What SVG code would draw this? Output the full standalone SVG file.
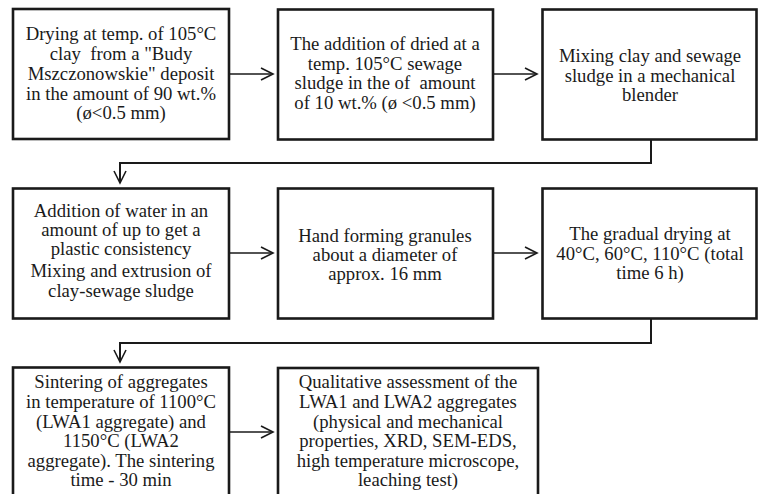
<svg xmlns="http://www.w3.org/2000/svg" width="759" height="494" viewBox="0 0 759 494">
<style>
.box{fill:#fff;stroke:#1a1a1a;stroke-width:2.6}
.t{font-family:"Liberation Serif","Times New Roman",serif;font-size:18.7px;fill:#1a1a1a;text-anchor:middle}
.c{fill:none;stroke:#1a1a1a;stroke-width:2}
.a{fill:none;stroke:#1a1a1a;stroke-width:1.6}
</style>
<defs>
<marker id="ah" markerUnits="userSpaceOnUse" markerWidth="16" markerHeight="16" refX="13" refY="7" orient="auto" viewBox="0 0 16 14">
<path d="M1,1 L13,7 L1,13" fill="none" stroke="#1a1a1a" stroke-width="1.6"/>
</marker>
</defs>
<rect width="759" height="494" fill="#fff"/>
<g id="connectors">
<path class="a" d="M229,74 H273" marker-end="url(#ah)"/>
<path class="a" d="M493,74 H537" marker-end="url(#ah)"/>
<path class="c" d="M651,139 V163 H120 V183" marker-end="url(#ah)"/>
<path class="a" d="M229,253 H273" marker-end="url(#ah)"/>
<path class="a" d="M493,253 H537" marker-end="url(#ah)"/>
<path class="c" d="M651,318 V343 H120 V362" marker-end="url(#ah)"/>
<path class="a" d="M229,432 H273" marker-end="url(#ah)"/>
</g>
<g id="n1">
<rect class="box" x="13" y="9" width="216" height="130"/>
<text class="t"><tspan x="121" y="40">Drying at temp. of 105°C</tspan><tspan x="121" y="60">clay &#160;from a "Budy</tspan><tspan x="121" y="80">Mszczonowskie" deposit</tspan><tspan x="121" y="100">in the amount of 90 wt.%</tspan><tspan x="121" y="119">(ø&lt;0.5 mm)</tspan></text>
</g>
<g id="n2">
<rect class="box" x="278" y="9.5" width="215" height="130"/>
<text class="t"><tspan x="385" y="50">The addition of dried at a</tspan><tspan x="385" y="69.5">temp. 105°C sewage</tspan><tspan x="385" y="89">sludge in the of &#160;amount</tspan><tspan x="385" y="108.5">of 10 wt.% (ø &lt;0.5 mm)</tspan></text>
</g>
<g id="n3">
<rect class="box" x="542.5" y="9.5" width="214" height="130"/>
<text class="t"><tspan x="650" y="62">Mixing clay and sewage</tspan><tspan x="650" y="81.5">sludge in a mechanical</tspan><tspan x="650" y="101">blender</tspan></text>
</g>
<g id="n4">
<rect class="box" x="13" y="188.5" width="216" height="130"/>
<text class="t"><tspan x="121" y="217">Addition of water in an</tspan><tspan x="121" y="236">amount of up to get a</tspan><tspan x="121" y="255">plastic consistency</tspan><tspan x="121" y="277">Mixing and extrusion of</tspan><tspan x="121" y="297">clay-sewage sludge</tspan></text>
</g>
<g id="n5">
<rect class="box" x="278" y="188.5" width="215" height="130"/>
<text class="t"><tspan x="385" y="241.5">Hand forming granules</tspan><tspan x="385" y="260.5">about a diameter of</tspan><tspan x="385" y="279.5">approx. 16 mm</tspan></text>
</g>
<g id="n6">
<rect class="box" x="542.5" y="188.5" width="214" height="130"/>
<text class="t"><tspan x="650" y="240">The gradual drying at</tspan><tspan x="650" y="259.5">40°C, 60°C, 110°C (total</tspan><tspan x="650" y="279">time 6 h)</tspan></text>
</g>
<g id="n7">
<rect class="box" x="13" y="367.5" width="216" height="132"/>
<text class="t"><tspan x="121" y="388">Sintering of aggregates</tspan><tspan x="121" y="408">in temperature of 1100°C</tspan><tspan x="121" y="427.5">(LWA1 aggregate) and</tspan><tspan x="121" y="447">1150°C (LWA2</tspan><tspan x="121" y="467">aggregate). The sintering</tspan><tspan x="121" y="486">time - 30 min</tspan></text>
</g>
<g id="n8">
<rect class="box" x="278" y="368" width="260" height="132"/>
<text class="t"><tspan x="408" y="388">Qualitative assessment of the</tspan><tspan x="408" y="408">LWA1 and LWA2 aggregates</tspan><tspan x="408" y="427.5">(physical and mechanical</tspan><tspan x="408" y="447">properties, XRD, SEM-EDS,</tspan><tspan x="408" y="466.5">high temperature microscope,</tspan><tspan x="408" y="486">leaching test)</tspan></text>
</g>
</svg>
